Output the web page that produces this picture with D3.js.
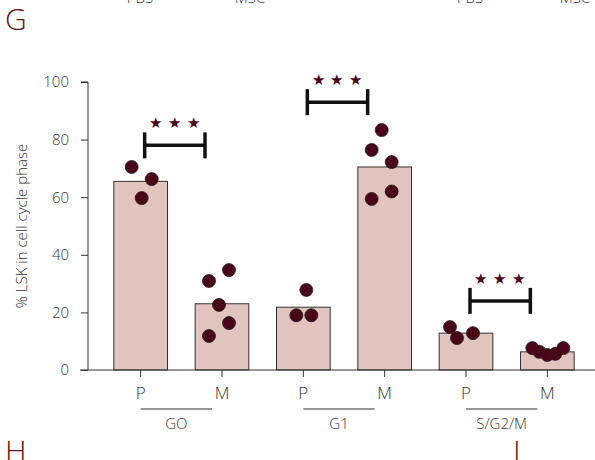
<!DOCTYPE html>
<html><head><meta charset="utf-8">
<script src="https://cdn.jsdelivr.net/npm/d3@7"></script>
<style>body{margin:0;background:#fff}text{font-family:"Open Sans",sans-serif;font-weight:300}</style>
</head><body><svg></svg>
<script>
var categories=["G0P","G0M","G1P","G1M","SP","SM"];
var tickLabels=["P","M","P","M","P","M"];
var phases=["GO","G1","S/G2/M"];
var barValues=[65.5,23,21.8,70.5,12.8,6.3];
var pointCats=["G0P","G0P","G0P","G0M","G0M","G0M","G0M","G0M","G1P","G1P","G1P","G1M","G1M","G1M","G1M","G1M","SP","SP","SP","SM","SM","SM","SM","SM"];
var pointValues=[70.5,66.3,59.7,30.9,34.7,22.6,16.3,11.8,27.8,19,19,83.3,76.4,72.2,62,59.4,14.9,11.1,12.8,7.6,6.3,5.2,5.6,7.6];
var pointJitter=[-9,11,1,-13,7,-3,7,-13,3,-7,8,-3,-13,7,7,-13,-16,-9,7,-15,-8,0,8,16];
var sigPairs=[[0,1],[2,3],[4,5]];
var sigLevels=[78,93,24];

var svgWidth=595,svgHeight=460;
var svg=d3.select("svg").attr("width",svgWidth).attr("height",svgHeight);
var dark="#4a0519", bar="#e0c4bd";

var yScale=d3.scaleLinear().domain([0,100]).range([370,82]);
var xScale=d3.scaleBand().domain(categories).range([100,588]).paddingInner(0.34).paddingOuter(0.17);
var bw=xScale.bandwidth();
function cx(c){return xScale(c)+bw/2;}

svg.append("g").attr("transform","translate(88,0)")
	.call(d3.axisLeft(yScale).tickValues([0,20,40,60,80,100]).tickSize(7).tickPadding(12))
	.call(function(g){g.select(".domain").attr("d","M-7,"+yScale(100)+"H0V"+yScale(0));
		g.selectAll("text").attr("font-size",15).attr("fill","#333");
		g.selectAll("line,path").attr("stroke","#333");});

svg.selectAll("rect.bar").data(barValues).enter().append("rect")
	.attr("x",function(d,i){return xScale(categories[i]);})
	.attr("y",function(d){return yScale(d);})
	.attr("width",bw).attr("height",function(d){return yScale(0)-yScale(d);})
	.attr("fill",bar).attr("stroke","#333").attr("stroke-width",1);

var xg=svg.append("g").attr("transform","translate(0,370)")
	.call(d3.axisBottom(xScale).tickFormat(function(d,i){return tickLabels[i];}).tickSize(7).tickPadding(10));
xg.select(".domain").attr("d","M80,0H595");
xg.selectAll("line,path").attr("stroke","#333");
xg.selectAll("text").attr("font-size",17).attr("fill","#333");

phases.forEach(function(p,i){
	var a=cx(categories[2*i]),b=cx(categories[2*i+1]);
	svg.append("line").attr("x1",a).attr("x2",b-10).attr("y1",409).attr("y2",409).attr("stroke","#333");
	svg.append("text").attr("x",(a+b-10)/2).attr("y",429).attr("text-anchor","middle").attr("font-size",15).attr("fill","#333").text(p);
});

svg.selectAll("circle.pt").data(pointValues).enter().append("circle")
	.attr("cx",function(d,i){return cx(pointCats[i])+pointJitter[i];})
	.attr("cy",function(d){return yScale(d);})
	.attr("r",6.5).attr("fill",dark).attr("stroke","#222").attr("stroke-width",0.8);

sigPairs.forEach(function(p,i){
	var a=cx(categories[p[0]])+4,b=cx(categories[p[1]])-17,y=yScale(sigLevels[i]);
	var g=svg.append("g").attr("stroke","#111").attr("stroke-width",3.5);
	g.append("line").attr("x1",a).attr("x2",b).attr("y1",y).attr("y2",y);
	g.append("line").attr("x1",a).attr("x2",a).attr("y1",y-13).attr("y2",y+13);
	g.append("line").attr("x1",b).attr("x2",b).attr("y1",y-13).attr("y2",y+13);
	svg.append("text").attr("x",(a+b)/2).attr("y",y-17).attr("text-anchor","middle")
		.attr("font-size",15).attr("letter-spacing",1).attr("fill",dark).attr("font-family","DejaVu Sans").text("★ ★ ★");
});

svg.append("text").attr("transform","translate(27,226) rotate(-90)").attr("text-anchor","middle")
	.attr("font-size",15).attr("fill","#333").text("% LSK in cell  cycle phase");

svg.append("text").attr("x",5).attr("y",30).attr("font-size",30).attr("fill","#6b1515").attr("font-weight",400).text("G");
svg.append("text").attr("x",5).attr("y",462).attr("font-size",30).attr("fill","#6b1515").attr("font-weight",400).text("H");
svg.append("text").attr("x",513).attr("y",462).attr("font-size",30).attr("fill","#6b1515").attr("font-weight",400).text("I");
[["PBS",140],["MSC",250],["PBS",470],["MSC",575]].forEach(function(t){
	svg.append("text").attr("x",t[1]).attr("y",3).attr("text-anchor","middle").attr("font-size",15).attr("fill","#333").text(t[0]);
});
</script></body></html>
